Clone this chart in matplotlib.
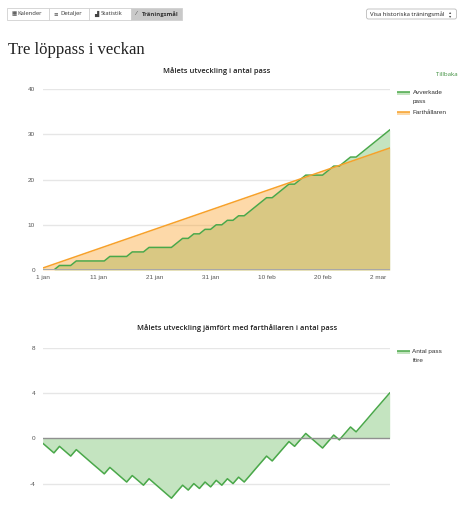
import matplotlib
matplotlib.use("Agg")
import matplotlib.pyplot as plt
from matplotlib.patches import Rectangle, FancyBboxPatch

plt.rcParams["axes.unicode_minus"] = False

# ---------------- data ----------------
days = list(range(63))  # day 0 = 1 jan ... day 62 = 3 mar
completed = [0, 0, 0, 1, 1, 1, 2, 2, 2, 2, 2, 2, 3, 3, 3, 3, 4, 4, 4, 5,
             5, 5, 5, 5, 6, 7, 7, 8, 8, 9, 9, 10, 10, 11, 11, 12, 12, 13, 14, 15,
             16, 16, 17, 18, 19, 19, 20, 21, 21, 21, 21, 22, 23, 23, 24, 25, 25, 26, 27, 28,
             29, 30, 31]
pacer_days = [0, 62]
pacer_values = [0.43, 27.0]
difference = [-0.43, -0.86, -1.29, -0.71, -1.14, -1.57, -1.00, -1.43, -1.86, -2.29,
              -2.71, -3.14, -2.57, -3.00, -3.43, -3.86, -3.29, -3.71, -4.14, -3.57,
              -4.00, -4.43, -4.86, -5.29, -4.71, -4.14, -4.57, -4.00, -4.43, -3.86,
              -4.29, -3.71, -4.14, -3.57, -4.00, -3.43, -3.86, -3.29, -2.71, -2.14,
              -1.57, -2.00, -1.43, -0.86, -0.29, -0.71, -0.14, 0.43, 0.00, -0.43,
              -0.86, -0.29, 0.29, -0.14, 0.43, 1.00, 0.57, 1.14, 1.71, 2.29,
              2.86, 3.43, 4.00]
xtick_days = [0, 10, 20, 30, 40, 50, 60]
xtick_labels = ["1 jan", "11 jan", "21 jan", "31 jan", "10 feb", "20 feb", "2 mar"]
top_yticks = [0, 10, 20, 30, 40]
bottom_yticks = [-4, 0, 4, 8]
nav_buttons = ["Kalender", "Detaljer", "Statistik", "Träningsmål"]

# ---------------- style ----------------
GREEN = "#4aa84a"
GREEN_FILL = "#c4e4c0"
ORANGE = "#f7a12a"
ORANGE_FILL = (250/255, 160/255, 40/255)
GRID = "#e6e6e6"
AXIS = "#a8a8a8"
TICK = "#555555"
SANS = ["Open Sans", "DejaVu Sans"]
TICKFONT = ["Liberation Sans", "DejaVu Sans"]

W, H = 462, 512
fig = plt.figure(figsize=(W/100, H/100), dpi=100)

def px_axes(x0, y0, x1, y1):
    return fig.add_axes([x0/W, (H-y1)/H, (x1-x0)/W, (y1-y0)/H])

# ---------------- top chart ----------------
ax1 = px_axes(42.7, 89.3, 389.7, 270)
ax1.fill_between(days, completed, 0, color=GREEN_FILL, lw=0, zorder=1)
ax1.fill_between(pacer_days, pacer_values, 0, color=ORANGE_FILL, alpha=0.4, lw=0, zorder=2)
ax1.plot(days, completed, color=GREEN, lw=1.1, zorder=4)
ax1.plot(pacer_days, pacer_values, color=ORANGE, lw=1.1, zorder=5)
ax1.set_xlim(0, 62)
ax1.set_ylim(0, 40)
ax1.set_yticks(top_yticks)
ax1.set_xticks(xtick_days)
ax1.set_xticklabels(xtick_labels)
for y in top_yticks[1:]:
    ax1.axhline(y, color=GRID, lw=1.0, zorder=0.5)
ax1.axhline(0, color=AXIS, lw=1.4, zorder=6)

# ---------------- bottom chart ----------------
ax2 = px_axes(42.7, 347.7, 389.7, 528.9)
ax2.fill_between(days, difference, 0, color=GREEN_FILL, lw=0, zorder=1)
ax2.plot(days, difference, color=GREEN, lw=1.1, zorder=4)
ax2.set_xlim(0, 62)
ax2.set_ylim(-8, 8)
ax2.set_yticks(bottom_yticks)
ax2.set_xticks([])
for y in bottom_yticks:
    if y != 0:
        ax2.axhline(y, color=GRID, lw=1.0, zorder=0.5)
ax2.axhline(0, color="#909090", lw=1.0, zorder=6)

for ax in (ax1, ax2):
    for s in ax.spines.values():
        s.set_visible(False)
    ax.tick_params(length=0, labelsize=4.6, colors=TICK, pad=5.5)
    ax.tick_params(axis="x", pad=3.5)
    for lab in ax.get_xticklabels() + ax.get_yticklabels():
        lab.set_family(TICKFONT)
    ax.set_facecolor("none")

# ---------------- overlay (pixel coords) ----------------
ov = fig.add_axes([0, 0, 1, 1], zorder=10)
ov.set_xlim(0, W)
ov.set_ylim(H, 0)
ov.axis("off")
ov.patch.set_alpha(0)

# nav buttons
edges = [6.7, 49.3, 89.3, 130.7, 182]
icons = ["▦", "≡", "▟", "⁄"]
for i, name in enumerate(nav_buttons):
    sel = (i == 3)
    ov.add_patch(Rectangle((edges[i], 7.5), edges[i+1]-edges[i], 12.5,
                           facecolor="#c9c9c9" if sel else "white",
                           edgecolor="#d0d0d0", lw=0.6))
    ov.text(edges[i] + 4.5, 13.8, icons[i], fontsize=4, color="#444444",
            va="center", ha="left", family=["DejaVu Sans"])
    ov.text(edges[i] + 11, 13.8, name, fontsize=4.2, color="#333333",
            va="center", ha="left", family=SANS,
            fontweight="bold" if sel else "normal")

# dropdown
ov.add_patch(FancyBboxPatch((366.5, 9), 90, 10, boxstyle="round,pad=0,rounding_size=2",
                            facecolor="white", edgecolor="#bbbbbb", lw=0.6))
ov.text(370, 14, "Visa historiska träningsmål", fontsize=4.3, color="#222222",
        va="center", ha="left", family=SANS)
ov.text(450.5, 12.3, "▴", fontsize=3.2, color="#444444", va="center", ha="center",
        family=["DejaVu Sans"])
ov.text(450.5, 15.7, "▾", fontsize=3.2, color="#444444", va="center", ha="center",
        family=["DejaVu Sans"])

# page title
ov.text(8.5, 54.5, "Tre löppass i veckan", fontsize=12, color="#222222",
        va="baseline", ha="left", family=["Liberation Serif", "DejaVu Serif"])

# chart titles
ov.text(217, 71.5, "Målets utveckling i antal pass", fontsize=5.4, color="#222222",
        va="center", ha="center", family=SANS, fontweight="semibold")
ov.text(237.5, 328.5, "Målets utveckling jämfört med farthållaren i antal pass",
        fontsize=5.4, color="#222222", va="center", ha="center", family=SANS,
        fontweight="semibold")

# Tillbaka link
ov.text(458, 75, "Tillbaka", fontsize=4.4, color="#3d8f3d", va="center", ha="right",
        family=SANS)

# legends
def legend_symbol(y, line_color, fill_color):
    ov.add_patch(Rectangle((396.5, y), 13.5, 2.6, facecolor=fill_color, lw=0))
    ov.plot([396.5, 410], [y, y], color=line_color, lw=1.1, solid_capstyle="butt")

legend_symbol(92.3, GREEN, GREEN_FILL)
ov.text(412.5, 92.3, "Avverkade", fontsize=4.6, color="#333333", va="center", ha="left",
        family=TICKFONT)
ov.text(412.5, 101.3, "pass", fontsize=4.6, color="#333333", va="center", ha="left",
        family=TICKFONT)
legend_symbol(112.3, ORANGE, "#fdd9a8")
ov.text(412.5, 112.0, "Farthållaren", fontsize=4.6, color="#333333", va="center", ha="left",
        family=TICKFONT)

legend_symbol(351.3, GREEN, GREEN_FILL)
ov.text(412.5, 351.0, "Antal pass", fontsize=4.6, color="#333333", va="center", ha="left",
        family=TICKFONT)
ov.text(412.5, 360.0, "före", fontsize=4.6, color="#333333", va="center", ha="left",
        family=TICKFONT)

fig.savefig("out.png", dpi=100)
